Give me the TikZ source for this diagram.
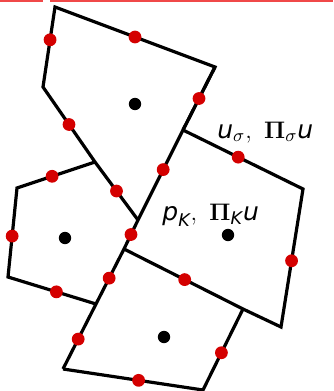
\documentclass[tikz,border=0pt]{standalone}
\usepackage{amsmath,amssymb}
\usepackage[no-math]{fontspec}
\usepackage{tikz}
\usetikzlibrary{calc}
\newfontfamily\dvsans{DejaVu Sans}
\definecolor{dotred}{HTML}{D40000}
\definecolor{rulered}{HTML}{F04848}
\tikzset{
  edge/.style={line width=1.6pt,line join=miter},
  rdot/.style={circle,fill=dotred,inner sep=0pt,minimum size=6.4pt},
  cdot/.style={circle,fill=black,inner sep=0pt,minimum size=6.2pt},
  lbl/.style={font=\fontsize{12.5}{15}\selectfont,inner sep=0pt,anchor=base west}
}
\newcommand{\sv}[1]{\text{\dvsans\itshape #1}}

\begin{document}
\begin{tikzpicture}[x=0.5pt,y=-0.5pt]
\useasboundingbox (0,0) rectangle (333,391);
\draw[rulered,line width=1pt] (0,1)--(43,1) (50,1)--(333,1);
% cell vertices
\coordinate (t1) at (55,7);
\coordinate (t2) at (215,67);
\coordinate (t3) at (43,87);
\coordinate (j1) at (183,130);
\coordinate (j2) at (138,220);
\coordinate (j3) at (95,162);
\coordinate (j4) at (124,249);
\coordinate (j5) at (243,309);
\coordinate (j6) at (96,304);
\coordinate (r1) at (303,189);
\coordinate (r2) at (281,327);
\coordinate (l1) at (17,188);
\coordinate (l2) at (8,277);
\coordinate (b1) at (203,390);
\coordinate (b2) at (63,369);
% edges
\draw[edge] (j1)--(t2)--(t1)--(t3)--(j3)--(j2);
\draw[edge] (t2)--(j1)--(j2)--(j4)--(j6)--(b2);
\draw[edge] (j3)--(l1)--(l2)--(j6);
\draw[edge] (j1)--(r1)--(r2)--(j5)--(j4);
\draw[edge] (j5)--(b1)--(b2);
% edge unknowns
\foreach \a/\b/\p [count=\i] in {t1/t3/.41,t1/t2/.5,t2/j1/.5,t3/j3/.5,j1/j2/.44,j1/r1/.46,
  l1/j3/.45,j3/j2/.5,l1/l2/.54,j2/j4/.5,r1/r2/.52,j4/j6/.53,j4/j5/.51,l2/j6/.55,
  j6/b2/.54,j5/b1/.54,b2/b1/.54}
  \node[rdot] (s\i) at ($(\a)!\p!(\b)$) {};
% cell unknowns
\node[cdot] (kt) at (135,104) {};
\node[cdot] (kl) at (65,238) {};
\node[cdot] (kr) at (228,235) {};
\node[cdot] (kb) at (164,337) {};
\node[lbl] (lsig) at (217,138) {$\sv{u}_{\sigma},\ \mathbf{\Pi}_{\sigma}\sv{u}$};
\node[lbl] (lk) at (162,220) {$\sv{p}_{\sv{K}},\ \mathbf{\Pi}_{\sv{K}}\sv{u}$};
\end{tikzpicture}
\end{document}
